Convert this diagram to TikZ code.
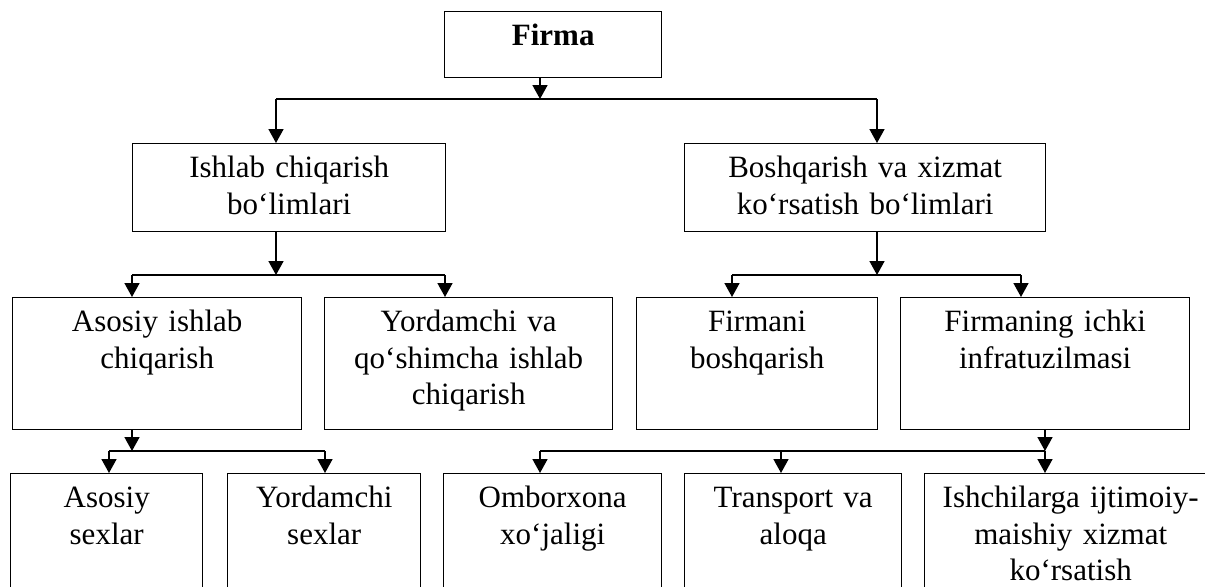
\documentclass[tikz,border=0pt]{standalone}
\usepackage{fontspec}
\setmainfont{Liberation Serif}
\usetikzlibrary{arrows.meta}

\tikzset{
  unit/.style={draw, line width=0.7pt, inner sep=0pt, anchor=north west, align=center,
    text height=17pt, font=\fontsize{15.5}{18.2}\selectfont},
  arr/.style={line width=0.8pt, -{Triangle[length=7pt,width=7.5pt]}},
  bus/.style={line width=0.8pt}
}

\begin{document}
\begin{tikzpicture}[x=0.5pt, y=-0.5pt]
        \useasboundingbox (0,0) rectangle (1205,586);
        \clip (0,0) rectangle (1205,586);

        % Draw the top box
        \node[unit, text width=108.5pt, text depth=16pt] (firma) at (444,11) {\textbf{Firma}};

        % Draw the two divisions
        \node[unit, text width=156.5pt, text depth=27pt] (ishlab) at (132,143) {Ishlab chiqarish\\bo‘limlari};
        \node[unit, text width=180.5pt, text depth=27pt] (boshq) at (684,143) {Boshqarish va xizmat\\ko‘rsatish bo‘limlari};

        % Draw the third row
        \node[unit, text width=144.5pt, text depth=49pt] (asosiy) at (12,297) {Asosiy ishlab\\chiqarish};
        \node[unit, text width=144pt, text depth=49pt] (yordam) at (324,297) {Yordamchi va\\qo‘shimcha ishlab\\chiqarish};
        \node[unit, text width=120.5pt, text depth=49pt] (firmani) at (636,297) {Firmani\\boshqarish};
        \node[unit, text width=144.5pt, text depth=49pt] (infra) at (900,297) {Firmaning ichki\\infratuzilmasi};

        % Draw the bottom row (cut off at the lower edge)
        \node[unit, text width=96pt, text depth=56.5pt] (sexa) at (10,473) {Asosiy\\sexlar};
        \node[unit, text width=96.5pt, text depth=56.5pt] (sexy) at (227,473) {Yordamchi\\sexlar};
        \node[unit, text width=109pt, text depth=56.5pt] (ombor) at (443,473) {Omborxona\\xo‘jaligi};
        \node[unit, text width=108.5pt, text depth=56.5pt] (trans) at (684,473) {Transport va\\aloqa};
        \node[unit, text width=146pt, text depth=56.5pt] (xizmat) at (924,473) {Ishchilarga ijtimoiy-\\maishiy xizmat\\ko‘rsatish};

        % Bus points
        \coordinate (f0) at (540,99);
        \coordinate (fl) at (276,99);
        \coordinate (fr) at (877,99);
        \coordinate (il) at (132,275);
        \coordinate (ir) at (445,275);
        \coordinate (i0) at (276,275);
        \coordinate (bl) at (732,275);
        \coordinate (br) at (1021,275);
        \coordinate (b0) at (877,275);
        \coordinate (al) at (109,451);
        \coordinate (ar) at (325,451);
        \coordinate (a0) at (132,451);
        \coordinate (nl) at (540,451);
        \coordinate (nm) at (781,451);
        \coordinate (n0) at (1045,451);

        % Firma to the divisions
        \draw[arr] (firma.south -| f0) -- (f0);
        \draw[bus] (fl) -- (fr);
        \draw[arr] (fl) -- (ishlab.north -| fl);
        \draw[arr] (fr) -- (boshq.north -| fr);

        % Ishlab chiqarish branch
        \draw[arr] (ishlab.south -| i0) -- (i0);
        \draw[bus] (il) -- (ir);
        \draw[arr] (il) -- (asosiy.north -| il);
        \draw[arr] (ir) -- (yordam.north -| ir);

        % Boshqarish branch
        \draw[arr] (boshq.south -| b0) -- (b0);
        \draw[bus] (bl) -- (br);
        \draw[arr] (bl) -- (firmani.north -| bl);
        \draw[arr] (br) -- (infra.north -| br);

        % Asosiy ishlab chiqarish to the shops
        \draw[arr] (asosiy.south -| a0) -- (a0);
        \draw[bus] (al) -- (ar);
        \draw[arr] (al) -- (sexa.north -| al);
        \draw[arr] (ar) -- (sexy.north -| ar);

        % Infrastructure to the services
        \draw[arr] (infra.south -| n0) -- (n0);
        \draw[bus] (nl) -- (n0);
        \draw[arr] (nl) -- (ombor.north -| nl);
        \draw[arr] (nm) -- (trans.north -| nm);
        \draw[arr] (n0) -- (xizmat.north -| n0);
\end{tikzpicture}
\end{document}
